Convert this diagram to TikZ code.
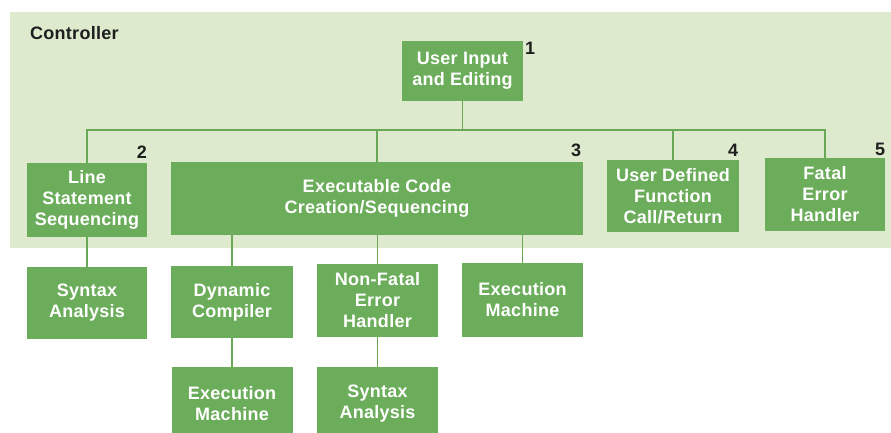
\documentclass[tikz,border=0pt]{standalone}
\usepackage{fontspec}
\setmainfont{Liberation Sans}[LetterSpace=1.5]
\definecolor{bgg}{RGB}{221,234,206}
\definecolor{boxg}{RGB}{108,173,91}
\definecolor{lineg}{RGB}{104,168,86}
\definecolor{numc}{RGB}{30,30,30}
\begin{document}
\begin{tikzpicture}[x=1pt,y=-1pt,
  box/.style={fill=boxg, draw=none, inner sep=0pt, align=center, text=white,
    font=\fontsize{18}{21}\selectfont\bfseries},
  conn/.style={draw=lineg, line width=1.9pt},
  num/.style={text=numc, font=\fontsize{18}{20}\selectfont\bfseries, inner sep=0pt}]
\useasboundingbox (0,0) rectangle (891,433);
\clip (0,0) rectangle (891,433);
\fill[bgg] (10,12) rectangle (891,248);
\node[anchor=west, text=numc, font=\fontsize{18}{20}\selectfont\bfseries, inner sep=0pt] (ctl) at (30,33) {Controller};
% top
\node[box, minimum width=121, minimum height=60] (ui) at (462.5,71) {User Input\\and Editing};
% second row
\node[box, minimum width=120, minimum height=74] (ls) at (87,200) {Line\\Statement\\Sequencing};
\node[box, minimum width=412, minimum height=73] (ec) at (377,198.5) {Executable Code\\Creation/Sequencing};
\node[box, minimum width=132, minimum height=72] (ud) at (673,196) {User Defined\\Function\\Call/Return};
\node[box, minimum width=120, minimum height=73] (fe) at (825,194.5) {Fatal\\Error\\Handler};
% third row
\node[box, minimum width=120, minimum height=72] (sa1) at (87,303) {Syntax\\Analysis};
\node[box, minimum width=122, minimum height=72] (dc) at (232,302) {Dynamic\\Compiler};
\node[box, minimum width=121, minimum height=73] (nf) at (377.5,300.5) {Non-Fatal\\Error\\Handler};
\node[box, minimum width=121, minimum height=74] (em1) at (522.5,300) {Execution\\Machine};
% fourth row
\node[box, minimum width=121, minimum height=74] (em2) at (232,404) {Execution\\Machine};
\node[box, minimum width=121, minimum height=74] (sa2) at (377.5,404) {Syntax\\Analysis};
% numbers
\node[num] (n1) at (530,48) {1};
\node[num] (n2) at (142,152) {2};
\node[num] (n3) at (576,150) {3};
\node[num] (n4) at (733,150) {4};
\node[num] (n5) at (880,149) {5};
% connectors
\coordinate (bus) at (0,130);
\draw[conn] (ui.south) -- (ui.south |- bus);
\draw[conn] (ls.north) |- (fe.north |- bus) -- (fe.north);
\draw[conn] (ec.north) -- (ec.north |- bus);
\draw[conn] (ud.north) -- (ud.north |- bus);
\draw[conn] (ls.south) -- (sa1.north);
\draw[conn] (dc.north |- ec.south) -- (dc.north);
\draw[conn] (nf.north |- ec.south) -- (nf.north);
\draw[conn] (em1.north |- ec.south) -- (em1.north);
\draw[conn] (dc.south) -- (em2.north);
\draw[conn] (nf.south) -- (sa2.north);
\end{tikzpicture}
\end{document}
